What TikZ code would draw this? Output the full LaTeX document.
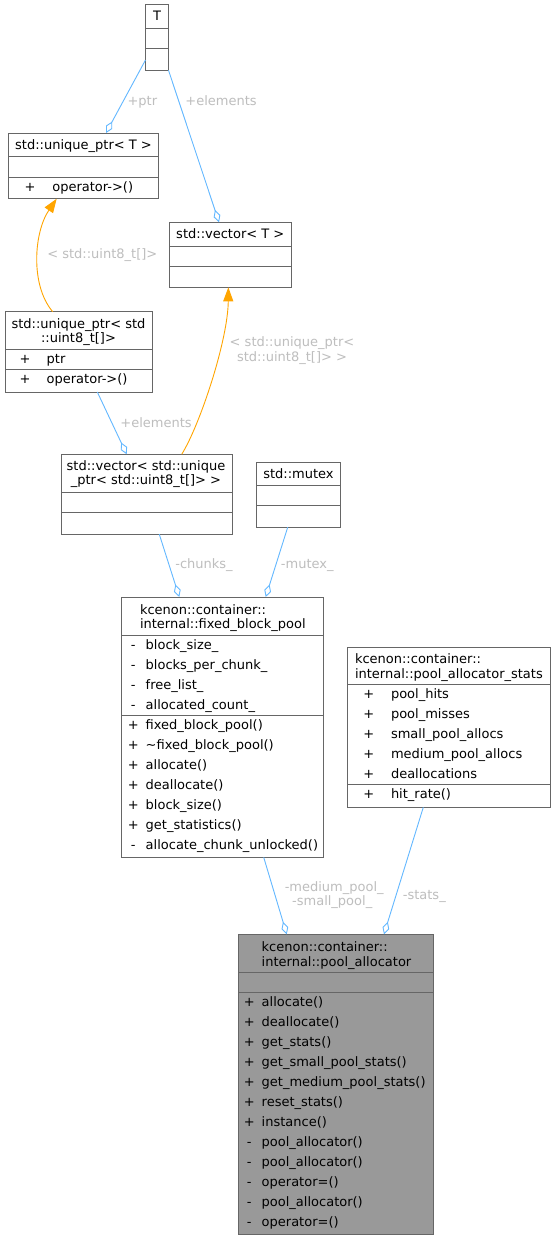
\documentclass[tikz,border=0pt]{standalone}
\usepackage{fontspec}
\setmainfont{DejaVu Sans}
\usetikzlibrary{arrows.meta}
\definecolor{boxgray}{HTML}{666666}
\definecolor{selgray}{HTML}{999999}
\definecolor{edgeblue}{HTML}{63B8FF}
\definecolor{tmplorange}{HTML}{FFA500}
\definecolor{lblgray}{HTML}{BEBEBE}

\begin{document}
\begin{tikzpicture}[x=1pt, y=-1pt,
  every node/.style={font=\fontsize{13}{15}\selectfont, inner sep=0pt, outer sep=0pt},
  cls/.style={draw=boxgray, line width=1pt, fill=white, anchor=north west},
  sep/.style={draw=boxgray, line width=1pt},
  ctr/.style={anchor=base},
  txt/.style={anchor=base west},
  lbl/.style={anchor=base, text=lblgray},
  agg/.style={draw=edgeblue, line width=0.9pt, -{Diamond[open, length=13pt, width=7pt]}},
  tmpl/.style={draw=tmplorange, line width=0.9pt, -{Triangle[length=14pt, width=10pt]}}]
\useasboundingbox[fill=white] (0,0) rectangle (556,1240);

% classes
\node[cls, minimum width=23, minimum height=65.6] (n01) at (145.5, 4.7) {};
\node[ctr] (n01t) at (157, 20.7) {T};

\node[cls, minimum width=149.6, minimum height=65.7] (n11) at (8.7, 133) {};
\node[ctr] (n11t) at (83.5, 149) {std::unique\_ptr< T >};
\node[ctr] (n11s1) at (30, 191) {+};
\node[txt] (n11m1) at (52.3, 191) {operator->()};

\node[cls, minimum width=121.3, minimum height=65] (n12) at (169.7, 222.3) {};
\node[ctr] (n12t) at (230.3, 238.3) {std::vector< T >};

\node[cls, minimum width=147, minimum height=80.3] (n21) at (5, 311.7) {};
\node[ctr] (n21t1) at (78.5, 328) {std::unique\_ptr< std};
\node[ctr] (n21t2) at (78.5, 342.6) {::uint8\_t[]>};
\node[ctr] (n21s1) at (25, 363.3) {+};
\node[txt] (n21a1) at (46.7, 363.3) {ptr};
\node[ctr] (n21s2) at (25, 383.7) {+};
\node[txt] (n21m1) at (46.7, 383.7) {operator->()};

\node[cls, minimum width=171, minimum height=80] (n22) at (61, 454.3) {};
\node[ctr] (n22t1) at (146, 470.3) {std::vector< std::unique};
\node[ctr] (n22t2) at (146, 484.8) {\_ptr< std::uint8\_t[]> >};

\node[cls, minimum width=84.4, minimum height=65.3] (n23) at (256.3, 462) {};
\node[ctr] (n23t) at (298.5, 478.2) {std::mutex};

\node[cls, minimum width=201.6, minimum height=260.3] (n31) at (121.7, 597) {};
\node[txt] (n31t1) at (140, 614) {kcenon::container::};
\node[txt] (n31t2) at (140, 628.7) {internal::fixed\_block\_pool};
\node[ctr] (n31s1) at (133.3, 649.3) {-};
\node[txt] (n31a1) at (145.7, 649.3) {block\_size\_};
\node[ctr] (n31s2) at (133.3, 669.3) {-};
\node[txt] (n31a2) at (145.7, 669.3) {blocks\_per\_chunk\_};
\node[ctr] (n31s3) at (133.3, 689.3) {-};
\node[txt] (n31a3) at (145.7, 689.3) {free\_list\_};
\node[ctr] (n31s4) at (133.3, 709.3) {-};
\node[txt] (n31a4) at (145.7, 709.3) {allocated\_count\_};
\node[ctr] (n31s5) at (133.3, 729.3) {+};
\node[txt] (n31m1) at (145.7, 729.3) {fixed\_block\_pool()};
\node[ctr] (n31s6) at (133.3, 749.3) {+};
\node[txt] (n31m2) at (145.7, 749.3) {\textasciitilde fixed\_block\_pool()};
\node[ctr] (n31s7) at (133.3, 769.3) {+};
\node[txt] (n31m3) at (145.7, 769.3) {allocate()};
\node[ctr] (n31s8) at (133.3, 789.3) {+};
\node[txt] (n31m4) at (145.7, 789.3) {deallocate()};
\node[ctr] (n31s9) at (133.3, 809.3) {+};
\node[txt] (n31m5) at (145.7, 809.3) {block\_size()};
\node[ctr] (n31s10) at (133.3, 829.3) {+};
\node[txt] (n31m6) at (145.7, 829.3) {get\_statistics()};
\node[ctr] (n31s11) at (133.3, 849.3) {-};
\node[txt] (n31m7) at (145.7, 849.3) {allocate\_chunk\_unlocked()};

\node[cls, minimum width=203, minimum height=160] (n32) at (347.7, 647.3) {};
\node[txt] (n32t1) at (355, 663.5) {kcenon::container::};
\node[txt] (n32t2) at (355, 678.3) {internal::pool\_allocator\_stats};
\node[ctr] (n32s1) at (368.7, 698.5) {+};
\node[txt] (n32a1) at (391, 698.5) {pool\_hits};
\node[ctr] (n32s2) at (368.7, 718.5) {+};
\node[txt] (n32a2) at (391, 718.5) {pool\_misses};
\node[ctr] (n32s3) at (368.7, 738.5) {+};
\node[txt] (n32a3) at (391, 738.5) {small\_pool\_allocs};
\node[ctr] (n32s4) at (368.7, 758.5) {+};
\node[txt] (n32a4) at (391, 758.5) {medium\_pool\_allocs};
\node[ctr] (n32s5) at (368.7, 778.5) {+};
\node[txt] (n32a5) at (391, 778.5) {deallocations};
\node[ctr] (n32s6) at (368.7, 798.3) {+};
\node[txt] (n32m1) at (391, 798.3) {hit\_rate()};

\node[cls, fill=selgray, minimum width=195.3, minimum height=300] (n41) at (238, 934.3) {};
\node[txt] (n41t1) at (261.7, 951.7) {kcenon::container::};
\node[txt] (n41t2) at (261.7, 966) {internal::pool\_allocator};
\node[ctr] (n41s1) at (249.3, 1006) {+};
\node[txt] (n41m1) at (261.7, 1006) {allocate()};
\node[ctr] (n41s2) at (249.3, 1026) {+};
\node[txt] (n41m2) at (261.7, 1026) {deallocate()};
\node[ctr] (n41s3) at (249.3, 1046) {+};
\node[txt] (n41m3) at (261.7, 1046) {get\_stats()};
\node[ctr] (n41s4) at (249.3, 1066) {+};
\node[txt] (n41m4) at (261.7, 1066) {get\_small\_pool\_stats()};
\node[ctr] (n41s5) at (249.3, 1086) {+};
\node[txt] (n41m5) at (261.7, 1086) {get\_medium\_pool\_stats()};
\node[ctr] (n41s6) at (249.3, 1106) {+};
\node[txt] (n41m6) at (261.7, 1106) {reset\_stats()};
\node[ctr] (n41s7) at (249.3, 1126) {+};
\node[txt] (n41m7) at (261.7, 1126) {instance()};
\node[ctr] (n41s8) at (249.3, 1146) {-};
\node[txt] (n41m8) at (261.7, 1146) {pool\_allocator()};
\node[ctr] (n41s9) at (249.3, 1166) {-};
\node[txt] (n41m9) at (261.7, 1166) {pool\_allocator()};
\node[ctr] (n41s10) at (249.3, 1186) {-};
\node[txt] (n41m10) at (261.7, 1186) {operator=()};
\node[ctr] (n41s11) at (249.3, 1206) {-};
\node[txt] (n41m11) at (261.7, 1206) {pool\_allocator()};
\node[ctr] (n41s12) at (249.3, 1226) {-};
\node[txt] (n41m12) at (261.7, 1226) {operator=()};

% compartments
\draw[sep] ([yshift=-24pt]n01.north west) -- ([yshift=-24pt]n01.north east);
\draw[sep] ([yshift=-44pt]n01.north west) -- ([yshift=-44pt]n01.north east);
\draw[sep] ([yshift=-23.7pt]n11.north west) -- ([yshift=-23.7pt]n11.north east);
\draw[sep] ([yshift=-44pt]n11.north west) -- ([yshift=-44pt]n11.north east);
\draw[sep] ([yshift=-24.4pt]n12.north west) -- ([yshift=-24.4pt]n12.north east);
\draw[sep] ([yshift=-43.7pt]n12.north west) -- ([yshift=-43.7pt]n12.north east);
\draw[sep] ([yshift=-37.6pt]n21.north west) -- ([yshift=-37.6pt]n21.north east);
\draw[sep] ([yshift=-58pt]n21.north west) -- ([yshift=-58pt]n21.north east);
\draw[sep] ([yshift=-37.7pt]n22.north west) -- ([yshift=-37.7pt]n22.north east);
\draw[sep] ([yshift=-57.7pt]n22.north west) -- ([yshift=-57.7pt]n22.north east);
\draw[sep] ([yshift=-23.3pt]n23.north west) -- ([yshift=-23.3pt]n23.north east);
\draw[sep] ([yshift=-43.3pt]n23.north west) -- ([yshift=-43.3pt]n23.north east);
\draw[sep] ([yshift=-38.3pt]n31.north west) -- ([yshift=-38.3pt]n31.north east);
\draw[sep] ([yshift=-118.3pt]n31.north west) -- ([yshift=-118.3pt]n31.north east);
\draw[sep] ([yshift=-37.4pt]n32.north west) -- ([yshift=-37.4pt]n32.north east);
\draw[sep] ([yshift=-137pt]n32.north west) -- ([yshift=-137pt]n32.north east);
\draw[sep] ([yshift=-38.4pt]n41.north west) -- ([yshift=-38.4pt]n41.north east);
\draw[sep] ([yshift=-58.4pt]n41.north west) -- ([yshift=-58.4pt]n41.north east);

% relations
\draw[agg] ([yshift=-22.5pt]n01.west) -- ([xshift=22.5pt]n11.north);
\draw[agg] (n01.south east) -- ([xshift=-11.3pt]n12.north);
\draw[tmpl] ([xshift=-25.8pt]n21.north) .. controls (30, 285) and (34, 232) .. ([xshift=-26.8pt]n11.south);
\draw[tmpl] ([xshift=35.2pt]n22.north) .. controls (200, 425) and (228, 340) .. ([xshift=-2pt]n12.south);
\draw[agg] ([xshift=18.8pt]n21.south) -- ([xshift=-19.8pt]n22.north);
\draw[agg] ([xshift=12.8pt]n22.south) -- ([xshift=-43.2pt]n31.north);
\draw[agg] ([xshift=-10.8pt]n23.south) -- ([xshift=43.2pt]n31.north);
\draw[agg] ([xshift=41.2pt]n31.south) -- ([xshift=-48.9pt]n41.north);
\draw[agg] ([xshift=-25.9pt]n32.south) -- ([xshift=48.3pt]n41.north);

% relation labels
\node[lbl] (l01) at (142.3, 105.2) {+ptr};
\node[lbl] (l02) at (221, 105.2) {+elements};
\node[lbl] (l03) at (102.3, 258.8) {< std::uint8\_t[]>};
\node[lbl] (l04) at (292, 346.5) {< std::unique\_ptr<};
\node[lbl] (l05) at (292, 361) {std::uint8\_t[]> >};
\node[lbl] (l06) at (156, 427) {+elements};
\node[lbl] (l07) at (204, 568) {-chunks\_};
\node[lbl] (l08) at (307.3, 568) {-mutex\_};
\node[lbl] (l09) at (334.2, 891) {-medium\_pool\_};
\node[lbl] (l10) at (332.2, 905.7) {-small\_pool\_};
\node[lbl] (l11) at (424.3, 899) {-stats\_};
\end{tikzpicture}
\end{document}
